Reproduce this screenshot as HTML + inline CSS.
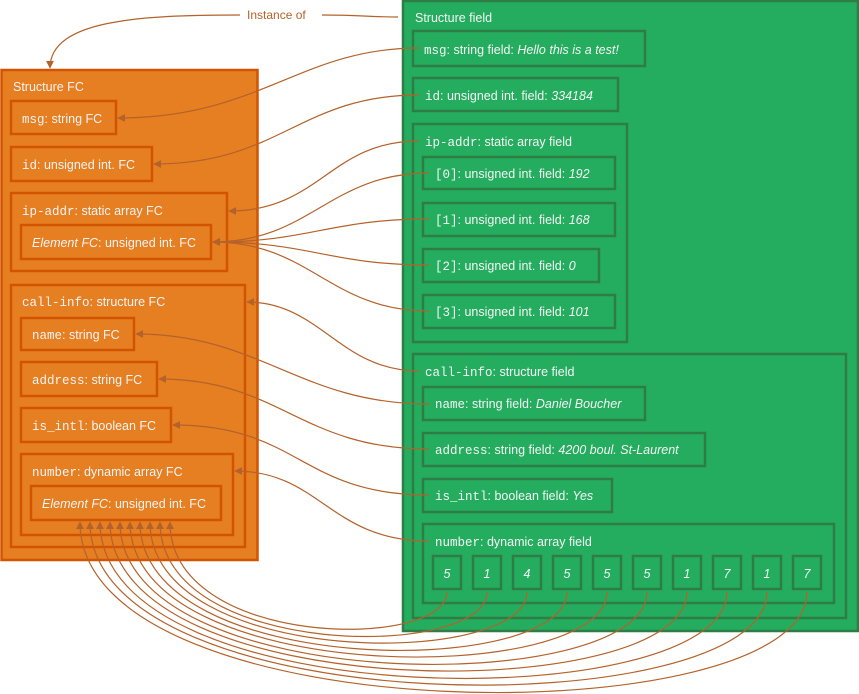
<!DOCTYPE html>
<html><head><meta charset="utf-8"><style>
html,body{margin:0;padding:0;background:#fff;}
svg{display:block;}
text{font-family:"Liberation Sans",sans-serif;font-size:12.5px;fill:#f4f4f4;}
.m{font-family:"Liberation Mono",monospace;font-size:12.5px;}
.i{font-style:italic;}
.o rect{fill:#e67e22;stroke:#d35400;stroke-width:2.5;}
.g rect{fill:#25ad5f;stroke:#2e7d46;stroke-width:2.5;}
.c{fill:none;stroke:#b4622b;stroke-width:1.2;}
.w{fill:none;stroke:#ffffff;stroke-width:1;opacity:.8;}
</style></head><body>
<svg width="859" height="694" viewBox="0 0 859 694" xmlns="http://www.w3.org/2000/svg">
<defs>
<marker id="a" viewBox="0 0 10 10" refX="9" refY="5" markerWidth="8" markerHeight="8" orient="auto-start-reverse" markerUnits="userSpaceOnUse"><path d="M0,0 L10,5 L0,10 z" fill="#b4622b"/></marker>
</defs>

<!-- Left orange -->
<g class="o">
<rect x="1.5" y="70" width="256" height="490"/>
<rect x="11" y="101" width="105" height="33"/>
<rect x="11" y="147" width="141" height="34"/>
<rect x="11" y="193" width="216" height="78"/>
<rect x="21" y="225" width="190" height="34"/>
<rect x="11" y="285" width="234" height="262"/>
<rect x="21" y="318" width="113" height="32"/>
<rect x="21" y="362" width="136" height="34"/>
<rect x="21" y="408" width="150" height="34"/>
<rect x="21" y="454" width="212" height="81"/>
<rect x="31" y="486" width="190" height="34"/>
</g>
<text x="13" y="91">Structure FC</text>
<text x="22" y="123"><tspan class="m">msg</tspan>: string FC</text>
<text x="22" y="169"><tspan class="m">id</tspan>: unsigned int. FC</text>
<text x="22" y="215"><tspan class="m">ip-addr</tspan>: static array FC</text>
<text x="32" y="247"><tspan class="i">Element FC</tspan>: unsigned int. FC</text>
<text x="22" y="306"><tspan class="m">call-info</tspan>: structure FC</text>
<text x="32" y="339"><tspan class="m">name</tspan>: string FC</text>
<text x="32" y="384"><tspan class="m">address</tspan>: string FC</text>
<text x="32" y="430"><tspan class="m">is_intl</tspan>: boolean FC</text>
<text x="32" y="476"><tspan class="m">number</tspan>: dynamic array FC</text>
<text x="42" y="508"><tspan class="i">Element FC</tspan>: unsigned int. FC</text>

<!-- Right green -->
<g class="g">
<rect x="403" y="1" width="455" height="630"/>
<rect x="413" y="31" width="232" height="35"/>
<rect x="413" y="78" width="205" height="33"/>
<rect x="413" y="124" width="214" height="218"/>
<rect x="423" y="157" width="192" height="32"/>
<rect x="423" y="203" width="192" height="33"/>
<rect x="423" y="249" width="176" height="33"/>
<rect x="423" y="295" width="192" height="33"/>
<rect x="413" y="354" width="433" height="264"/>
<rect x="423" y="387" width="222" height="33"/>
<rect x="423" y="433" width="282" height="33"/>
<rect x="423" y="479" width="189" height="33"/>
<rect x="423" y="524" width="411" height="79"/>
<rect x="433" y="556" width="28" height="33"/>
<rect x="473" y="556" width="28" height="33"/>
<rect x="513" y="556" width="28" height="33"/>
<rect x="553" y="556" width="28" height="33"/>
<rect x="593" y="556" width="28" height="33"/>
<rect x="633" y="556" width="28" height="33"/>
<rect x="673" y="556" width="28" height="33"/>
<rect x="713" y="556" width="28" height="33"/>
<rect x="753" y="556" width="28" height="33"/>
<rect x="793" y="556" width="28" height="33"/>
</g>
<text x="415" y="22">Structure field</text>
<text x="424" y="54"><tspan class="m">msg</tspan>: string field: <tspan class="i">Hello this is a test!</tspan></text>
<text x="425" y="100"><tspan class="m">id</tspan>: unsigned int. field: <tspan class="i">334184</tspan></text>
<text x="425" y="146"><tspan class="m">ip-addr</tspan>: static array field</text>
<text x="435" y="178"><tspan class="m">[0]</tspan>: unsigned int. field: <tspan class="i">192</tspan></text>
<text x="435" y="224"><tspan class="m">[1]</tspan>: unsigned int. field: <tspan class="i">168</tspan></text>
<text x="435" y="270"><tspan class="m">[2]</tspan>: unsigned int. field: <tspan class="i">0</tspan></text>
<text x="435" y="316"><tspan class="m">[3]</tspan>: unsigned int. field: <tspan class="i">101</tspan></text>
<text x="425" y="376"><tspan class="m">call-info</tspan>: structure field</text>
<text x="435" y="408"><tspan class="m">name</tspan>: string field: <tspan class="i">Daniel Boucher</tspan></text>
<text x="435" y="454"><tspan class="m">address</tspan>: string field: <tspan class="i">4200 boul. St-Laurent</tspan></text>
<text x="435" y="500"><tspan class="m">is_intl</tspan>: boolean field: <tspan class="i">Yes</tspan></text>
<text x="435" y="546"><tspan class="m">number</tspan>: dynamic array field</text>
<g class="i" text-anchor="middle">
<text x="447" y="578">5</text><text x="487" y="578">1</text><text x="527" y="578">4</text><text x="567" y="578">5</text><text x="607" y="578">5</text>
<text x="647" y="578">5</text><text x="687" y="578">1</text><text x="727" y="578">7</text><text x="767" y="578">1</text><text x="807" y="578">7</text>
</g>

<!-- Instance of -->
<text x="247" y="19" style="fill:#b4622b;font-size:12px">Instance of</text>
<path class="c" d="M322,15 C360,15 370,17 398,17"/>
<path class="c" marker-end="url(#a)" d="M240,15 C140,15 50,20 50,68"/>

<!-- connectors -->
<g>
<path class="c" marker-end="url(#a)" d="M419,48 C300,48 260,118 118,118"/>
<path class="c" marker-end="url(#a)" d="M419,95 C300,95 280,164 154,164"/>
<path class="c" marker-end="url(#a)" d="M419,141 C330,141 320,211 229,211"/>
<path class="c" marker-end="url(#a)" d="M429,173 C330,173 310,242 213,242"/>
<path class="c" marker-end="url(#a)" d="M429,219 C330,219 310,242 213,242"/>
<path class="c" marker-end="url(#a)" d="M429,265 C330,265 310,242 213,242"/>
<path class="c" marker-end="url(#a)" d="M429,311 C330,311 310,242 213,242"/>
<path class="c" marker-end="url(#a)" d="M419,371 C340,371 320,302 247,302"/>
<path class="c" marker-end="url(#a)" d="M429,404 C300,404 260,334 136,334"/>
<path class="c" marker-end="url(#a)" d="M429,449 C300,449 280,379 159,379"/>
<path class="c" marker-end="url(#a)" d="M429,495 C300,495 300,425 173,425"/>
<path class="c" marker-end="url(#a)" d="M429,541 C330,541 320,471 235,471"/>
</g>
<!-- number element arrows -->
<g>
<path class="c" marker-end="url(#a)" d="M447,592 C447,650 170,650 170,522"/>
<path class="c" marker-end="url(#a)" d="M487,592 C487,660 160,660 160,522"/>
<path class="c" marker-end="url(#a)" d="M527,592 C527,669 150,669 150,522"/>
<path class="c" marker-end="url(#a)" d="M567,592 C567,679 140,679 140,522"/>
<path class="c" marker-end="url(#a)" d="M607,592 C607,688 130,688 130,522"/>
<path class="c" marker-end="url(#a)" d="M647,592 C647,698 120,698 120,522"/>
<path class="c" marker-end="url(#a)" d="M687,592 C687,707 110,707 110,522"/>
<path class="c" marker-end="url(#a)" d="M727,592 C727,717 100,717 100,522"/>
<path class="c" marker-end="url(#a)" d="M767,592 C767,726 90,726 90,522"/>
<path class="c" marker-end="url(#a)" d="M807,592 C807,736 80,736 80,522"/>
</g>
</svg>
</body></html>
